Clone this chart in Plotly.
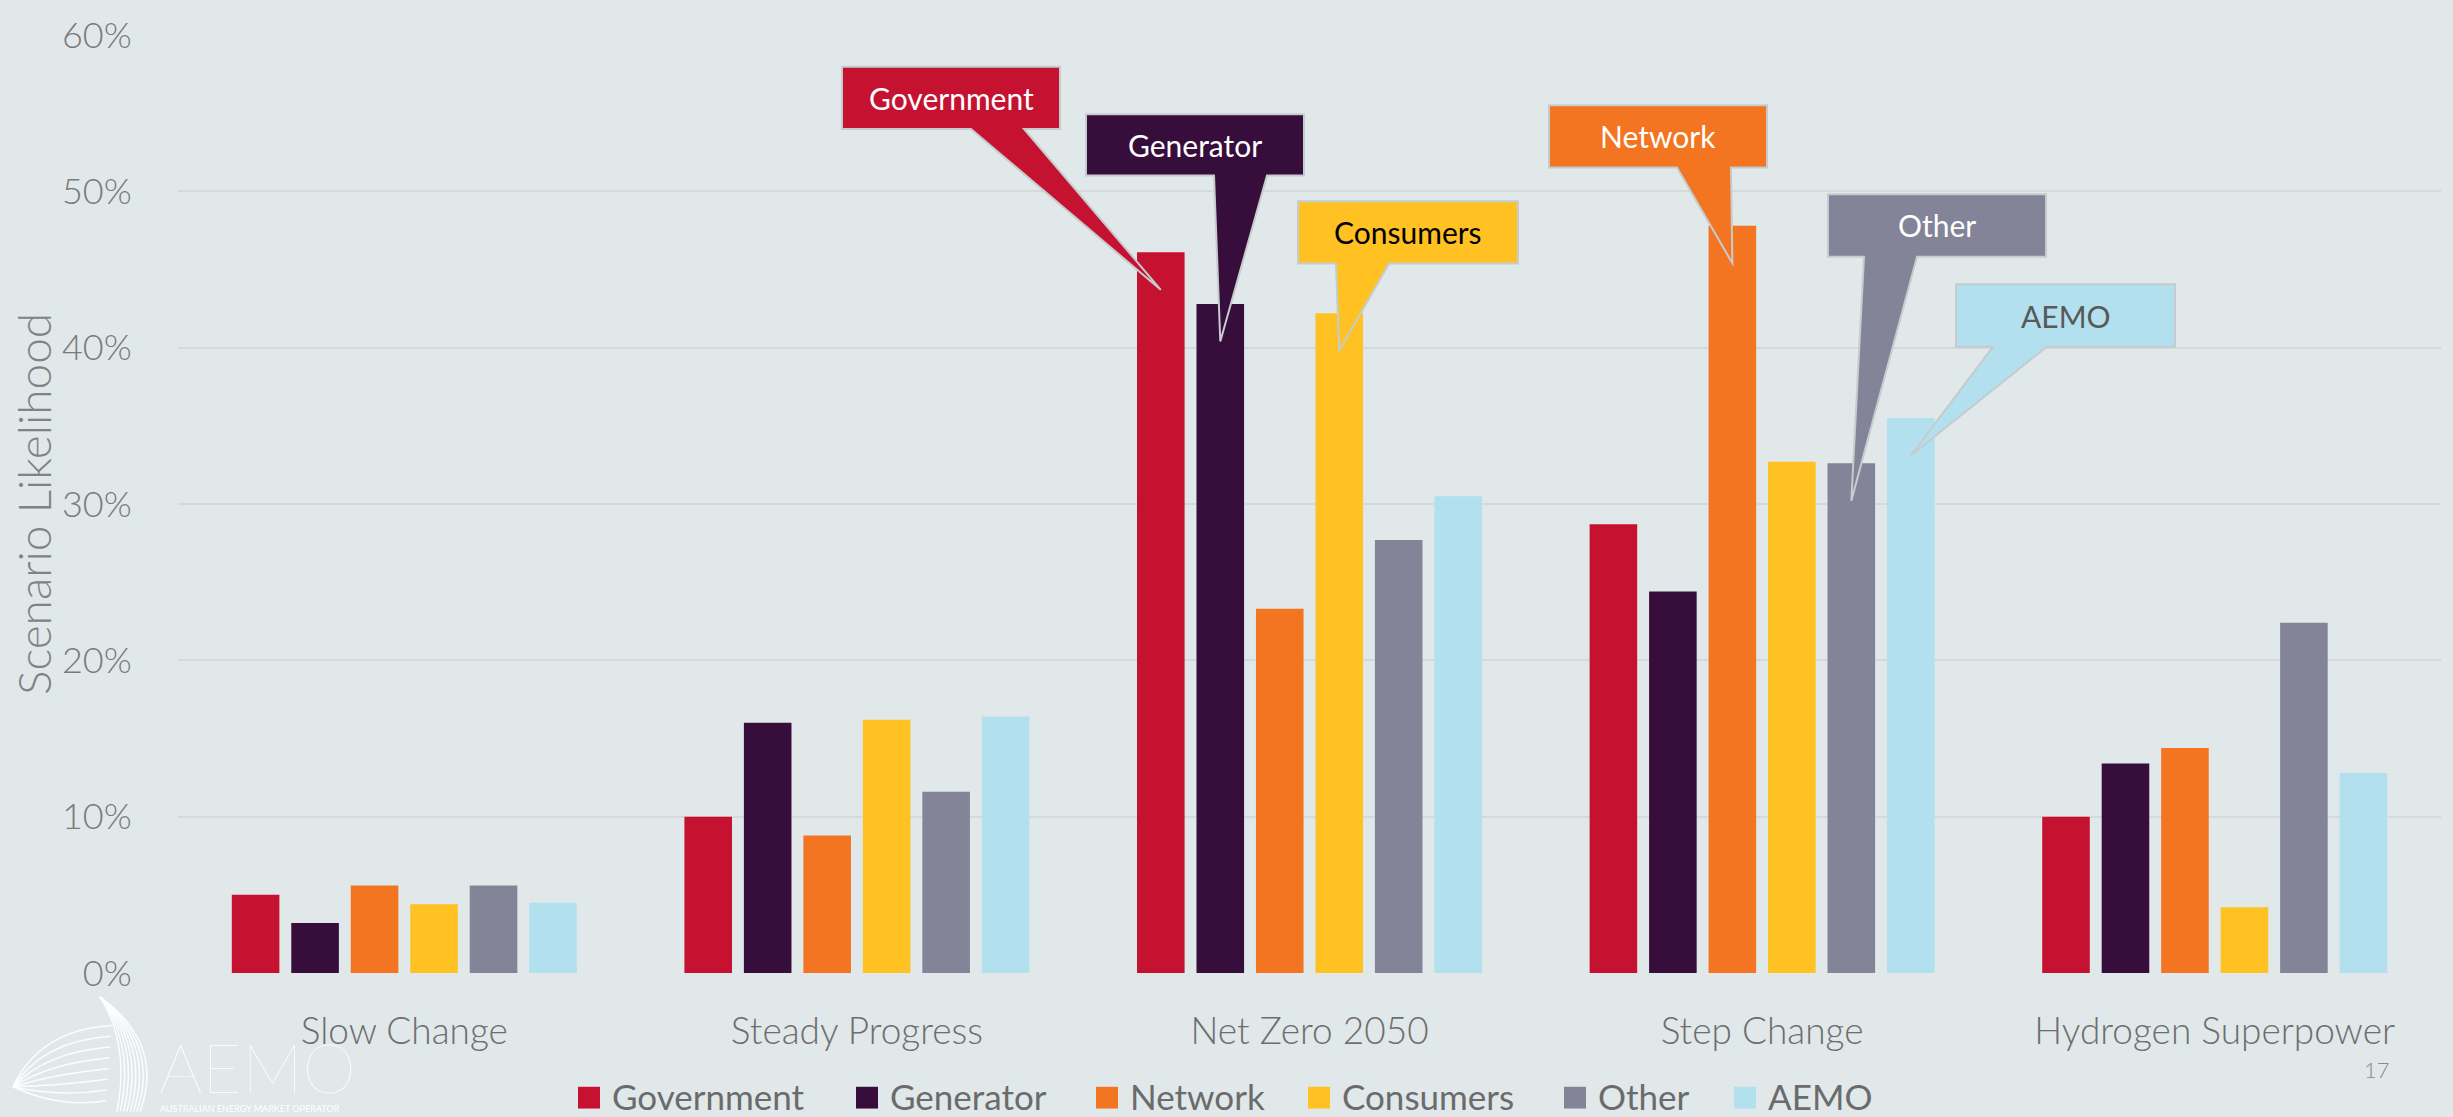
import plotly.graph_objects as go

# ---------------- data ----------------
categories = ["Slow Change", "Steady Progress", "Net Zero 2050", "Step Change", "Hydrogen Superpower"]
series_names = ["Government", "Generator", "Network", "Consumers", "Other", "AEMO"]
government = [5.0, 10.0, 46.1, 28.7, 10.0]
generator = [3.2, 16.0, 42.8, 24.4, 13.4]
network = [5.6, 8.8, 23.3, 47.8, 14.4]
consumers = [4.4, 16.2, 42.2, 32.7, 4.2]
other = [5.6, 11.6, 27.7, 32.6, 22.4]
aemo = [4.5, 16.4, 30.5, 35.5, 12.8]
y_ticks = [0, 10, 20, 30, 40, 50, 60]
y_tick_labels = ["0%", "10%", "20%", "30%", "40%", "50%", "60%"]

series_values = [government, generator, network, consumers, other, aemo]
colors = ["#C41230", "#370E3B", "#F37521", "#FFC222", "#838498", "#B2E0EE"]
callout_text_colors = ["#FFFFFF", "#FFFFFF", "#FFFFFF", "#000000", "#FFFFFF", "#595959"]

# ---------------- geometry / style ----------------
W, H = 2453, 1117
L, R, T, B = 178, 12, 25, 144
PW, PH = W - L - R, H - T - B
BG = "#E0E8EA"
GRID = "#D4DADC"
FONT = "Lato"
BARGAP = 0.2115
BARGROUPGAP = 0.2
YMAX = 60
NCAT = len(categories)
NSER = len(series_names)


def px(xp, yp):
    """pixel -> paper coords"""
    return (xp - L) / PW, (T + PH - yp) / PH


def pstr(xp, yp):
    a, b = px(xp, yp)
    return f"{a:.5f},{b:.5f}"


fig = go.Figure()
for name, col, vals in zip(series_names, colors, series_values):
    fig.add_bar(x=categories, y=vals, name=name, marker_color=col,
                marker_line_width=0, showlegend=False)

shapes = []
annotations = []

# ---------------- callouts ----------------
# (series index, category index, box left, box right, box top, box bottom, base left, base right) in pixels
callouts = [
    (0, 2, 842, 1060, 57, 120, 971, 1024),
    (1, 2, 1086, 1304, 105, 167, 1214, 1267),
    (3, 2, 1298, 1518, 193, 256, 1336, 1389),
    (2, 3, 1549, 1767, 96, 159, 1677, 1731),
    (4, 3, 1828, 2046, 186, 249, 1864, 1917),
    (5, 3, 1956, 2175, 277, 340, 1993, 2047),
]
slot = (1 - BARGAP) / NSER
TIP_DROP = 2.4
for si, ci, x0, x1, y0, y1, b0, b1 in callouts:
    tip_x = (ci + (si - (NSER - 1) / 2) * slot + 0.5) / NCAT
    tip_y = (series_values[si][ci] - TIP_DROP) / YMAX
    path = (f"M{pstr(x0, y0)} L{pstr(x1, y0)} L{pstr(x1, y1)} L{pstr(b1, y1)} "
            f"L{tip_x:.5f},{tip_y:.5f} L{pstr(b0, y1)} L{pstr(x0, y1)} Z")
    shapes.append(dict(type="path", xref="paper", yref="paper", path=path,
                       fillcolor=colors[si], line=dict(color="#C6CBCD", width=2), layer="above"))
    cx, cy = px((x0 + x1) / 2, (y0 + y1) / 2)
    annotations.append(dict(xref="paper", yref="paper", x=cx, y=cy, text=series_names[si],
                            showarrow=False, xanchor="center", yanchor="middle",
                            font=dict(family=FONT, size=30, color=callout_text_colors[si])))

# ---------------- custom legend ----------------
legend_square_x = [578, 856, 1096, 1308, 1564, 1734]
for name, col, sx in zip(series_names, colors, legend_square_x):
    a0, b0 = px(sx, 1110)
    a1, b1 = px(sx + 22, 1088)
    shapes.append(dict(type="rect", xref="paper", yref="paper", x0=a0, x1=a1, y0=b0, y1=b1,
                       fillcolor=col, line=dict(width=0)))
    tx, ty = px(sx + 32, 1097)
    annotations.append(dict(xref="paper", yref="paper", x=tx, y=ty, text=name, showarrow=False,
                            xanchor="left", yanchor="middle",
                            font=dict(family=FONT, size=35, color="#6B6B6B")))

# ---------------- y-axis title ----------------
tx, ty = px(33, 499)
annotations.append(dict(xref="paper", yref="paper", x=tx, y=ty, text="Scenario Likelihood",
                        textangle=-90, showarrow=False, xanchor="center", yanchor="middle",
                        font=dict(family=FONT, size=46, color="#828282", weight=300)))

# ---------------- page number ----------------
tx, ty = px(2377, 1071)
annotations.append(dict(xref="paper", yref="paper", x=tx, y=ty, text="17", showarrow=False,
                        xanchor="center", yanchor="middle",
                        font=dict(family=FONT, size=22, color="#8A8A8A", weight=300)))

# ---------------- AEMO logo ----------------
tx, ty = px(157, 1068)
annotations.append(dict(xref="paper", yref="paper", x=tx, y=ty, text="AEMO", showarrow=False,
                        xanchor="left", yanchor="middle",
                        font=dict(family=FONT, size=68, color="#FFFFFF", weight=100)))
tx, ty = px(158, 1110)
annotations.append(dict(xref="paper", yref="paper", x=tx, y=ty,
                        text="AUSTRALIAN ENERGY MARKET OPERATOR", showarrow=False,
                        xanchor="left", yanchor="middle",
                        font=dict(family=FONT, size=9, color="#FFFFFF")))
n = 8
for k in range(n):
    f = k / (n - 1)
    # crescent
    cxp = 165 - 35 * f
    ex = 140 - 23 * f
    path = f"M{pstr(100, 997)} Q{pstr(cxp, 1045)} {pstr(ex, 1113)}"
    shapes.append(dict(type="path", xref="paper", yref="paper", path=path,
                       line=dict(color="rgba(255,255,255,0.9)", width=1.5)))
    # leaf
    ey = 1026 + 76 * f
    exl = 112 - 6 * f
    path = f"M{pstr(13, 1088)} Q{pstr(40 + 20 * f, 1030 + 80 * f)} {pstr(exl, ey)}"
    shapes.append(dict(type="path", xref="paper", yref="paper", path=path,
                       line=dict(color="rgba(255,255,255,0.9)", width=1.5)))

fig.update_layout(
    width=W, height=H,
    margin=dict(l=L, r=R, t=T, b=B, pad=0),
    paper_bgcolor=BG, plot_bgcolor=BG,
    barmode="group", bargap=BARGAP, bargroupgap=BARGROUPGAP,
    showlegend=False,
    shapes=shapes, annotations=annotations,
    xaxis=dict(type="category", showgrid=False, zeroline=False, showline=False,
               ticks="outside", ticklen=26, tickcolor="rgba(0,0,0,0)",
               tickfont=dict(family=FONT, size=37, color="#6E6E6E", weight=300)),
    yaxis=dict(range=[0, YMAX], tickmode="array", tickvals=y_ticks, ticktext=y_tick_labels,
               showgrid=True, gridcolor=GRID, gridwidth=2, zeroline=False, showline=False,
               ticks="outside", ticklen=38, tickcolor="rgba(0,0,0,0)",
               tickfont=dict(family=FONT, size=36, color="#7A7A7A", weight=300)),
)

fig.write_html("out.html")
